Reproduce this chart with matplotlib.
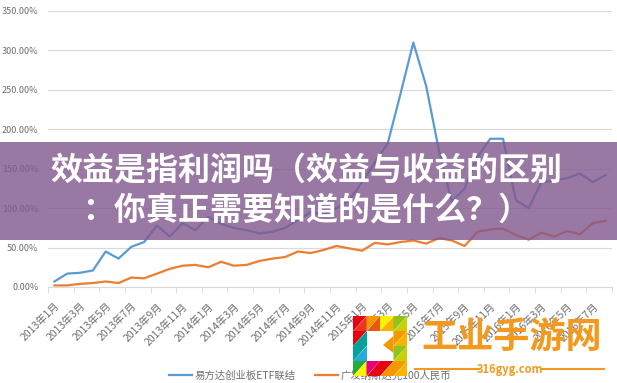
import matplotlib
matplotlib.use("Agg")
import matplotlib.pyplot as plt
import numpy as np
from matplotlib.patches import Rectangle, Polygon
from matplotlib.lines import Line2D
from matplotlib.ticker import FuncFormatter, FixedLocator

plt.rcParams['font.family'] = ['Noto Sans CJK SC', 'DejaVu Sans']

# monthly categories, 2013-01 .. 2016-08
months = [f"{y}年{m}月" for y in (2013, 2014, 2015, 2016) for m in range(1, 13)][:44]

# cumulative return, %
etf = [7, 17, 18, 21, 45, 36, 51, 57, 78, 64, 81, 72, 89,
       80, 75, 72, 68, 70, 75, 85, 95, 92, 100, 110, 133, 158,
       182, 245, 310, 255, 173, 108, 125, 165, 188, 188, 110, 100,
       133, 135, 138, 144, 133, 142]
nasdaq = [2, 2, 4, 5, 7, 5, 12, 11, 17, 23, 27, 28, 25,
          32, 27, 28, 33, 36, 38, 45, 43, 47, 52, 49, 46, 56,
          54, 57, 59, 55, 62, 59, 52, 70, 73, 74, 66, 60,
          69, 64, 71, 67, 81, 84]
series_names = ['易方达创业板ETF联结', '广发纳斯达克100人民币']
yticks = [0, 50, 100, 150, 200, 250, 300, 350]

title_lines = ['效益是指利润吗（效益与收益的区别', '：你真正需要知道的是什么？）']

W, H = 617, 383
grey = '#6e6e6e'
grid = '#d9d9d9'


def fp(x, y):
    # pixel -> figure coords
    return (x / W, 1 - y / H)


fig = plt.figure(figsize=(W / 100, H / 100), dpi=100)
fig.patch.set_facecolor('white')
ax = fig.add_axes([48 / W, 1 - 287 / H, (612 - 48) / W, (287 - 11) / H])

x = np.arange(len(months))
l1, = ax.plot(x, etf, color='#5b9bd5', lw=1.6)
l2, = ax.plot(x, nasdaq, color='#ed7d31', lw=1.6)

ax.set_xlim(-0.5, len(months) - 0.5)
ax.set_ylim(0, 350)
ax.set_yticks(yticks)
ax.yaxis.set_major_formatter(FuncFormatter(lambda v, p: f"{v:.2f}%"))
ax.grid(axis='y', color=grid, lw=0.8)
ax.set_axisbelow(True)
for s in ['top', 'right', 'left']:
    ax.spines[s].set_visible(False)
ax.spines['bottom'].set_color(grid)
ax.tick_params(axis='y', length=0, labelsize=6.5, labelcolor=grey, pad=7)

ax.set_xticks(x[::2])
ax.set_xticklabels(months[::2], rotation=45, ha='right', va='top',
                   rotation_mode='anchor', fontsize=7.5, color=grey)
ax.xaxis.set_minor_locator(FixedLocator(np.arange(-0.5, len(months), 2)))
ax.tick_params(axis='x', which='major', length=0, pad=10)
ax.tick_params(axis='x', which='minor', length=4, color=grid)

fig.legend([l1, l2], series_names, loc='center', bbox_to_anchor=fp(310, 376),
           ncol=2, frameon=False, fontsize=7.5, handlelength=2.2,
           handletextpad=0.3, columnspacing=1.8, labelcolor=grey)

# purple banner over the chart
fig.add_artist(Rectangle(fp(0, 240), 1, 98 / H, transform=fig.transFigure,
                         facecolor=(0.50, 0.345, 0.55), alpha=0.8,
                         edgecolor='none', zorder=5))
fig.text(*fp(306, 171), title_lines[0], ha='center', va='center',
         fontsize=23, color='white', weight='bold', zorder=6)
fig.text(*fp(306, 211), title_lines[1], ha='center', va='center',
         fontsize=23, color='white', weight='bold', zorder=6)

# watermark logo
L, T, cw, ch = 353, 316, 13.5, 15
fig.add_artist(Rectangle(fp(L, T + 4 * ch), 4 * cw / W, 4 * ch / H,
                         transform=fig.transFigure, facecolor='white',
                         edgecolor='none', zorder=7))
logo_cells = {
    (0, 0): ('#e60012', '#e83820'), (0, 1): ('#f39800', '#e95513'),
    (0, 2): ('#fff100', '#f8b500'), (0, 3): ('#8fc31f', '#c9d200'),
    (1, 0): ('#e60012', '#00a29a'), (2, 0): ('#00a29a', '#29a8e0'),
    (3, 0): ('#22ac38', '#fff100'), (3, 1): ('#e4007f', '#e60012'),
    (3, 2): ('#e60012', '#f39800'), (3, 3): ('#f39800', '#f8b500'),
    (1, 3): ('#f39800', '#f8b500'), (2, 3): ('#8fc31f', '#c9d200'),
}
for (r, c), (ca, cb) in logo_cells.items():
    x0, y0 = L + c * cw, T + r * ch
    a = [fp(x0, y0), fp(x0 + cw, y0), fp(x0, y0 + ch)]
    b = [fp(x0 + cw, y0), fp(x0 + cw, y0 + ch), fp(x0, y0 + ch)]
    fig.add_artist(Polygon(a, closed=True, transform=fig.transFigure,
                           facecolor=ca, edgecolor='none', zorder=8))
    fig.add_artist(Polygon(b, closed=True, transform=fig.transFigure,
                           facecolor=cb, edgecolor='none', zorder=8))
fig.add_artist(Polygon([fp(383, 345), fp(L + 3 * cw, 336), fp(L + 3 * cw, 353)],
                       closed=True, transform=fig.transFigure,
                       facecolor='#f39800', edgecolor='none', zorder=8))

orange = '#f39a1e'
fig.text(*fp(512, 337), '工业手游网', ha='center', va='center', fontsize=26,
         color=orange, weight='bold', zorder=8)
fig.text(*fp(510, 369), '316gyg.com', ha='center', va='center', fontsize=8,
         color=orange, weight='bold', zorder=8)
for xa, xb in [(415, 479), (541, 604)]:
    fig.add_artist(Line2D([xa / W, xb / W], [1 - 369 / H] * 2,
                          transform=fig.transFigure, color=orange, lw=1.5,
                          zorder=8))

fig.savefig('out.png', dpi=100)
